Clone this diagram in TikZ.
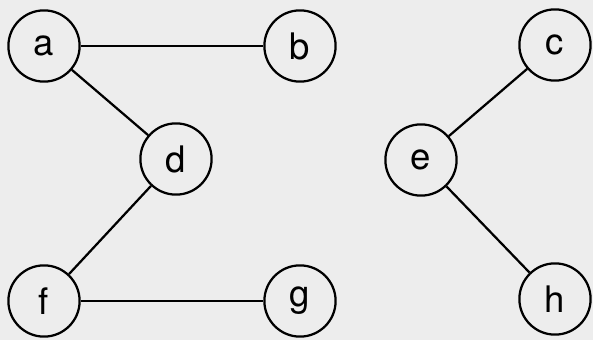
\documentclass[tikz,border=0pt]{standalone}
\usepackage{fontspec}
\setmainfont{TeX Gyre Heros}
\definecolor{paper}{RGB}{237,237,237}
\tikzset{
	vertex/.style={circle, draw=black, fill=paper, line width=1.6pt, minimum size=1.78cm, inner sep=0pt, font=\fontsize{26}{30}\selectfont},
	link/.style={line width=1.6pt}
}

\begin{document}
\begin{tikzpicture}[x=0.025cm, y=-0.025cm]
			%%%%% START %%%%%
			
			\fill[paper] (0, 0) rectangle (593, 340);
			\useasboundingbox (0, 0) rectangle (593, 340);
			
			\node[vertex] (a) at (44, 46) {a};
			\node[vertex] (b) at (300, 46) {b};
			\node[vertex] (c) at (555, 45) {c};
			\node[vertex] (d) at (176, 159) {d};
			\node[vertex] (e) at (421, 160) {e};
			\node[vertex] (f) at (44, 301) {f};
			\node[vertex] (g) at (300, 301) {g};
			\node[vertex] (h) at (555, 299) {h};
			
			\draw[link] (a) -- (b);
			\draw[link] (a) -- (d);
			\draw[link] (d) -- (f);
			\draw[link] (f) -- (g);
			\draw[link] (c) -- (e);
			\draw[link] (e) -- (h);
			
			%%%%% END %%%%%
		\end{tikzpicture}
\end{document}
